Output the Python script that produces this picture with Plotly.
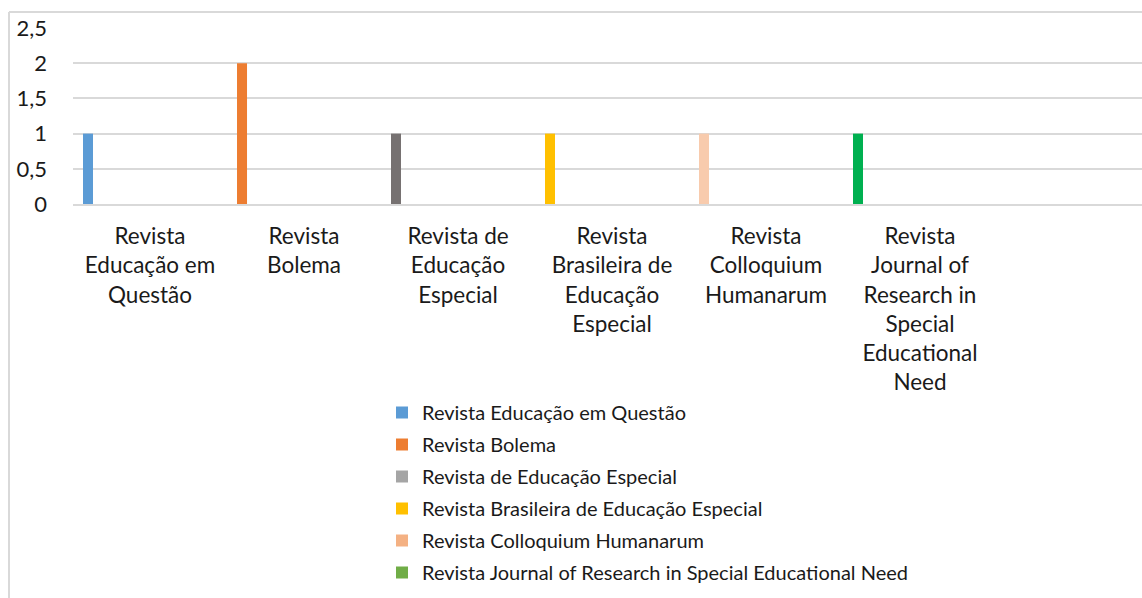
import plotly.graph_objects as go

categories = [
    "Revista Educação em Questão",
    "Revista Bolema",
    "Revista de Educação Especial",
    "Revista Brasileira de Educação Especial",
    "Revista Colloquium Humanarum",
    "Revista Journal of Research in Special Educational Need",
]
tick_labels = [
    "Revista<br>Educação em<br>Questão",
    "Revista<br>Bolema",
    "Revista de<br>Educação<br>Especial",
    "Revista<br>Brasileira de<br>Educação<br>Especial",
    "Revista<br>Colloquium<br>Humanarum",
    "Revista<br>Journal of<br>Research in<br>Special<br>Educational<br>Need",
]
values = [1, 2, 1, 1, 1, 1]
bar_colors = ["#5B9BD5", "#ED7D31", "#767171", "#FFC000", "#F8CBAD", "#00B050"]
legend_colors = ["#5B9BD5", "#ED7D31", "#A5A5A5", "#FFC000", "#F4B183", "#70AD47"]
y_ticks = [0, 0.5, 1, 1.5, 2, 2.5]
y_tick_text = ["0", "0,5", "1", "1,5", "2", "2,5"]

W, H = 1142, 598
L, T, B = 73, 28, 394
plot_w = W - L
plot_h = H - T - B

def px_x(p):
    return (p - L) / plot_w

def px_y(q):
    return (H - B - q) / plot_h

FONT = "Lato"
TXT = "#1a1a1a"
fig = go.Figure()
for i, (c, v) in enumerate(zip(categories, values)):
    fig.add_trace(go.Bar(
        x=[c], y=[v], name=c, showlegend=False,
        marker=dict(color=bar_colors[i], line=dict(width=0)),
        offset=-0.435, width=0.065,
    ))
for i, c in enumerate(categories):
    fig.add_trace(go.Bar(
        x=[c], y=[None], name=c, showlegend=True, legendgroup=f"g{i}",
        marker=dict(color=legend_colors[i], line=dict(width=0)),
    ))

fig.update_layout(
    width=W, height=H,
    margin=dict(l=L, r=0, t=T, b=B, autoexpand=False),
    barmode="overlay",
    plot_bgcolor="white", paper_bgcolor="white",
    font=dict(family=FONT, size=20, color=TXT),
    legend=dict(
        orientation="v", x=px_x(382), xanchor="left",
        y=px_y(393), yanchor="top",
        font=dict(family=FONT, size=20, color=TXT),
        tracegroupgap=3, bgcolor="rgba(0,0,0,0)",
    ),
    xaxis=dict(
        type="category", categoryarray=categories,
        range=[-0.5, -0.5 + plot_w / 154.0],
        tickvals=categories, ticktext=tick_labels,
        showgrid=False, showline=True, linecolor="#D9D9D9", linewidth=2,
        ticks="", tickfont=dict(family=FONT, size=22.5, color=TXT),
        tickangle=0, ticklabelstandoff=11,
    ),
    yaxis=dict(
        range=[0, 2.5], tickvals=y_ticks, ticktext=y_tick_text,
        showgrid=True, gridcolor="#D9D9D9", gridwidth=2,
        zeroline=False, showline=False, ticks="",
        tickfont=dict(family=FONT, size=22, color=TXT),
        ticklabelstandoff=25,
    ),
    shapes=[
        dict(type="line", xref="paper", yref="paper",
             x0=px_x(9), x1=px_x(W + 5), y0=px_y(12), y1=px_y(12),
             line=dict(color="#D9D9D9", width=2)),
        dict(type="line", xref="paper", yref="paper",
             x0=px_x(9), x1=px_x(9), y0=px_y(12), y1=px_y(H + 5),
             line=dict(color="#D9D9D9", width=2)),
    ],
)

fig.write_html(
    "out.html",
    config={"displayModeBar": False},
    post_script="document.body.style.margin='0';document.body.style.overflow='hidden';",
)
